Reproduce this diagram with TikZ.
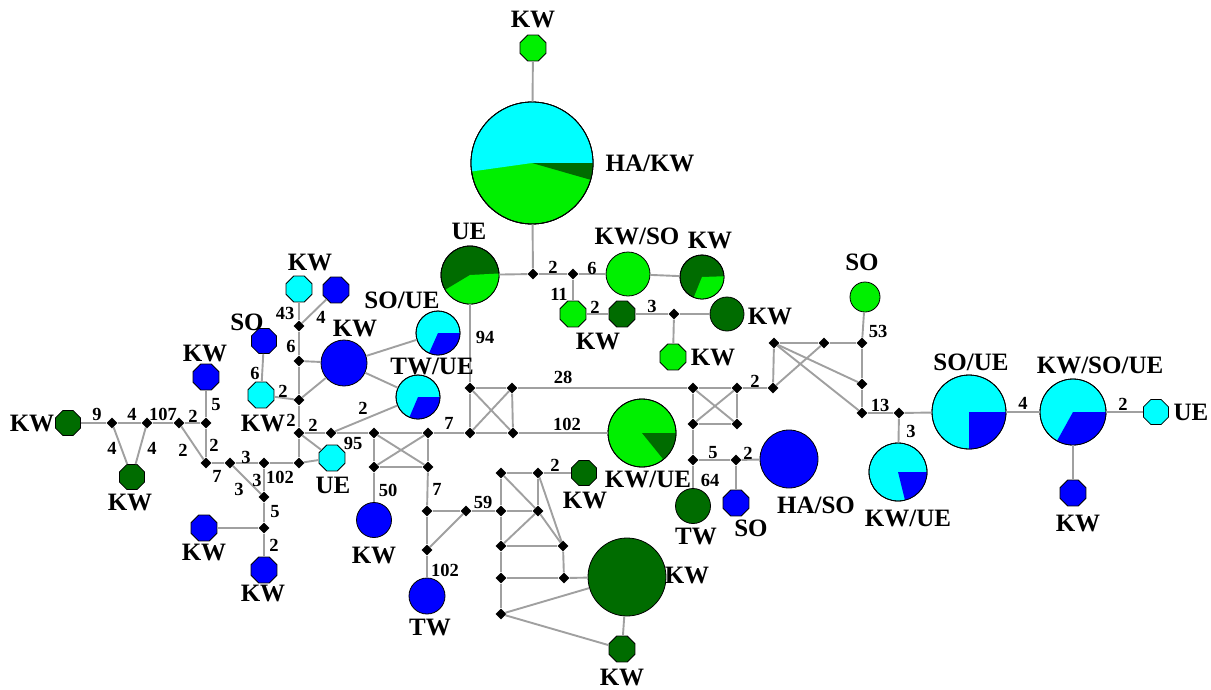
\documentclass[tikz,border=0pt]{standalone}
\usepackage{fontspec}
\setmainfont{Liberation Serif}
\usetikzlibrary{shapes.geometric}
\definecolor{hcyan}{RGB}{0,255,255}
\definecolor{hblue}{RGB}{0,0,255}
\definecolor{hlgreen}{RGB}{0,240,0}
\definecolor{hdgreen}{RGB}{0,108,0}
\definecolor{linkgray}{RGB}{160,160,160}
% wedge of a pie: node, radius, start, end, colour
\newcommand{\slice}[5]{%
  \fill[#5] (#1.center) -- ++(#3:#2) arc[start angle=#3, end angle=#4, radius=#2] -- cycle;
  \draw[rim] (#1.center) circle[radius=#2];}
\begin{document}
\begin{tikzpicture}
  [x=1pt,y=-1pt,
   hap/.style={circle,draw=black,line width=.8pt,inner sep=0pt},
   oct/.style={regular polygon,regular polygon sides=8,draw=black,line width=.8pt,inner sep=0pt},
   mv/.style={diamond,fill=black,inner sep=0pt,minimum size=11pt},
   link/.style={draw=linkgray,line width=1.9pt},
   rim/.style={draw=black,line width=.8pt},
   lab/.style={font=\fontsize{25}{25}\selectfont\bfseries,inner sep=0pt},
   num/.style={font=\fontsize{18.5}{18.5}\selectfont\bfseries,inner sep=0pt}]
  \useasboundingbox (0,0) rectangle (1211,689);
  % median vectors
  \node[mv] (a1) at (112,423) {};
  \node[mv] (a2) at (147,423) {};
  \node[mv] (a3) at (179,423) {};
  \node[mv] (a4) at (206,423) {};
  \node[mv] (a5) at (206,463) {};
  \node[mv] (a6) at (230,463) {};
  \node[mv] (a7) at (264,463) {};
  \node[mv] (a8) at (299,463) {};
  \node[mv] (a9) at (264,497) {};
  \node[mv] (a10) at (264,528) {};
  \node[mv] (b1) at (299,433) {};
  \node[mv] (b2) at (299,400) {};
  \node[mv] (b3) at (299,361) {};
  \node[mv] (b4) at (299,326) {};
  \node[mv] (c1) at (331,433) {};
  \node[mv] (c2) at (374,433) {};
  \node[mv] (c3) at (428,433) {};
  \node[mv] (c4) at (470,433) {};
  \node[mv] (c5) at (513,433) {};
  \node[mv] (c6) at (470,388) {};
  \node[mv] (c7) at (512,388) {};
  \node[mv] (c8) at (374,467) {};
  \node[mv] (c9) at (428,467) {};
  \node[mv] (d1) at (427,511) {};
  \node[mv] (d2) at (466,511) {};
  \node[mv] (d3) at (427,550) {};
  \node[mv] (e1) at (501,473) {};
  \node[mv] (e2) at (538,473) {};
  \node[mv] (e3) at (501,511) {};
  \node[mv] (e4) at (538,511) {};
  \node[mv] (e5) at (501,546) {};
  \node[mv] (e6) at (563,546) {};
  \node[mv] (e7) at (501,578) {};
  \node[mv] (e8) at (564,578) {};
  \node[mv] (e9) at (501,614) {};
  \node[mv] (f1) at (533,274) {};
  \node[mv] (f2) at (573,274) {};
  \node[mv] (f3) at (674,314) {};
  \node[mv] (g1) at (693,388) {};
  \node[mv] (g2) at (737,388) {};
  \node[mv] (g3) at (773,388) {};
  \node[mv] (g4) at (774,343) {};
  \node[mv] (g5) at (693,424) {};
  \node[mv] (g6) at (737,424) {};
  \node[mv] (g7) at (693,460) {};
  \node[mv] (g8) at (736,460) {};
  \node[mv] (h1) at (824,343) {};
  \node[mv] (h2) at (862,343) {};
  \node[mv] (h3) at (862,384) {};
  \node[mv] (h4) at (862,413) {};
  \node[mv] (h5) at (899,413) {};
  % haplotypes
  \node[oct,fill=hdgreen,minimum size=27pt] (k1) at (68,423) {};
  \node[oct,fill=hdgreen,minimum size=27pt] (k2) at (132,477) {};
  \node[oct,fill=hblue,minimum size=28pt] (k3) at (206,377) {};
  \node[oct,fill=hblue,minimum size=28pt] (k4) at (204,528) {};
  \node[oct,fill=hblue,minimum size=28pt] (k5) at (264,570) {};
  \node[oct,fill=hblue,minimum size=27pt] (k6) at (264,341) {};
  \node[oct,fill=hcyan,minimum size=28pt] (k7) at (261,395) {};
  \node[oct,fill=hcyan,minimum size=28pt] (k8) at (299,289) {};
  \node[oct,fill=hblue,minimum size=28pt] (k9) at (336,290) {};
  \node[hap,fill=hblue,minimum size=46pt] (k10) at (344,363) {};
  \node[oct,fill=hcyan,minimum size=28pt] (k11) at (332,458) {};
  \node[hap,fill=hblue,minimum size=35pt] (k12) at (374,520) {};
  \node[hap,fill=hblue,minimum size=36pt] (k13) at (427,596) {};
  \node[oct,fill=hdgreen,minimum size=27pt] (k14) at (584,473) {};
  \node[hap,fill=hdgreen,minimum size=78pt] (k15) at (627,577) {};
  \node[oct,fill=hdgreen,minimum size=28pt] (k16) at (622,649) {};
  \node[hap,fill=hdgreen,minimum size=35pt] (k17) at (693,506) {};
  \node[oct,fill=hblue,minimum size=28pt] (k18) at (736,503) {};
  \node[hap,fill=hblue,minimum size=58pt] (k19) at (789,459) {};
  \node[hap,fill=hlgreen,minimum size=30pt] (k20) at (865,297) {};
  \node[oct,fill=hcyan,minimum size=27pt] (k21) at (1156,412) {};
  \node[oct,fill=hblue,minimum size=28pt] (k22) at (1073,493) {};
  \node[oct,fill=hlgreen,minimum size=28pt] (k23) at (533,48) {};
  \node[hap,fill=hlgreen,minimum size=44pt] (k24) at (628,274) {};
  \node[oct,fill=hlgreen,minimum size=28pt] (k25) at (573,314) {};
  \node[oct,fill=hdgreen,minimum size=28pt] (k26) at (622,314) {};
  \node[hap,fill=hdgreen,minimum size=34pt] (k27) at (727,314) {};
  \node[oct,fill=hlgreen,minimum size=28pt] (k28) at (673,357) {};
  % pies
  \node[hap,fill=hlgreen,minimum size=122pt] (p1) at (532,163) {};
  \slice{p1}{61}{-188}{0}{hcyan}
  \slice{p1}{61}{0}{16}{hdgreen}
  \node[hap,fill=hdgreen,minimum size=58pt] (p2) at (470,275) {};
  \slice{p2}{29}{-3}{149}{hlgreen}
  \node[hap,fill=hdgreen,minimum size=44pt] (p3) at (702,277) {};
  \slice{p3}{22}{-2}{112}{hlgreen}
  \node[hap,fill=hcyan,minimum size=44pt] (p4) at (438,333) {};
  \slice{p4}{22}{0}{114}{hblue}
  \node[hap,fill=hcyan,minimum size=44pt] (p5) at (418,397) {};
  \slice{p5}{22}{0}{113}{hblue}
  \node[hap,fill=hlgreen,minimum size=68pt] (p6) at (642,433) {};
  \slice{p6}{34}{0}{51}{hdgreen}
  \node[hap,fill=hcyan,minimum size=74pt] (p7) at (969,412) {};
  \slice{p7}{37}{0}{90}{hblue}
  \node[hap,fill=hcyan,minimum size=66pt] (p8) at (1073,412) {};
  \slice{p8}{33}{0}{119}{hblue}
  \node[hap,fill=hcyan,minimum size=58pt] (p9) at (898,472) {};
  \slice{p9}{29}{0}{76}{hblue}
  % links
  \foreach \from/\to in {k1/a1,a1/a2,a1/k2,a2/k2,a2/a3,a3/a4,a4/k3,a4/a5,a3/a5,a5/a6,a6/a7,
    a6/a9,a7/a9,a7/a8,a9/a10,a10/k4,a10/k5,
    a8/b1,b1/b2,b2/b3,b3/b4,b4/k8,b4/k9,b3/k10,b2/k10,b2/k7,k7/k6,
    b1/c1,b1/k11,a8/k11,c1/c2,c1/p5,c2/c3,c3/c4,c4/c5,c5/p6,k10/p4,k10/p5,
    c2/c8,c3/c9,c8/c9,c2/c9,c3/c8,c8/k12,c9/d1,d1/d2,d1/d3,d2/d3,d3/k13,d2/e3,
    c4/c6,c5/c7,c6/c7,c4/c7,c6/c5,c6/p2,c7/g1,
    p2/f1,f1/p1,p1/k23,f1/f2,f2/k24,k24/p3,f2/k25,k25/k26,k26/f3,f3/k27,f3/k28,
    e1/e2,e2/k14,e1/e3,e1/e4,e2/e4,e2/e6,e3/e4,e3/e5,e4/e5,e4/e6,e5/e6,e6/e8,
    e5/e7,e7/e8,e8/k15,e7/e9,e9/k15,e9/k16,k15/k16,
    g1/g2,g1/g5,g2/g6,g5/g6,g1/g6,g2/g5,g2/g3,g5/g7,g7/g8,g8/k19,g8/k18,g7/k17,
    g3/g4,g3/h1,g4/h1,h1/h2,g4/h3,g4/h4,h2/h3,h3/h4,h2/k20,h4/h5,h5/p9,h5/p7,
    p7/p8,p8/k21,p8/k22}
    \draw[link] (\from) -- (\to);
  % population labels
  \foreach \x/\y/\t [count=\i] in {533/20/KW,650/163/{HA/KW},469/231/UE,637/236/{KW/SO},
    710/240/KW,770/316/KW,598/341/KW,713/357/KW,862/262/SO,971/362/{SO/UE},
    1100/365/{KW/SO/UE},1191/412/UE,1078/523/KW,908/518/{KW/UE},816/505/{HA/SO},
    696/536/TW,751/528/SO,648/479/{KW/UE},585/500/KW,687/575/KW,622/677/KW,
    430/627/TW,374/555/KW,355/328/KW,402/300/{SO/UE},432/366/{TW/UE},333/485/UE,
    310/262/KW,247/322/SO,263/423/KW,205/353/KW,32/423/KW,130/502/KW,204/552/KW,
    263/593/KW}
    \node[lab] (t\i) at (\x,\y) {\t};
  % mutation counts
  \foreach \x/\y/\t [count=\i] in {97/414/9,132/414/4,163/414/107,193/416/2,216/405/5,
    112/448/4,152/448/4,183/450/2,214/445/2,217/476/7,246/457/3,239/489/3,257/480/3,
    280/477/102,275/512/5,274/545/2,285/313/43,321/317/4,291/346/6,255/373/6,
    283/391/2,291/420/2,313/425/2,363/408/2,353/443/95,449/423/7,388/490/50,
    437/489/7,483/502/59,445/570/102,555/465/2,485/337/94,563/377/28,567/424/102,
    553/267/2,592/268/6,559/294/11,595/307/2,652/306/3,755/381/2,713/453/5,
    748/453/2,710/480/64,878/331/53,880/405/13,911/431/3,1023/403/4,1123/404/2}
    \node[num] (n\i) at (\x,\y) {\t};
\end{tikzpicture}
\end{document}
